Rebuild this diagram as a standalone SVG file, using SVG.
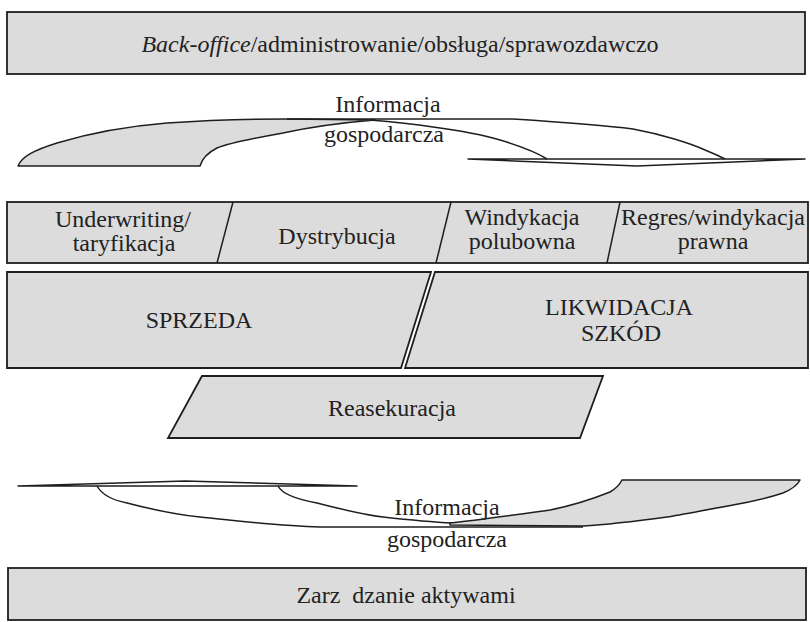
<svg xmlns="http://www.w3.org/2000/svg" width="810" height="622" viewBox="0 0 810 622">
<style>
.box{fill:#dcdcdc;stroke:#1e1e1e;stroke-width:1.8}
.ln{fill:none;stroke:#1e1e1e;stroke-width:1.5;stroke-linejoin:round}
.gr{fill:#dcdcdc;stroke:#1e1e1e;stroke-width:1.5;stroke-linejoin:round}
</style>
<rect width="810" height="622" fill="#ffffff"/>
<g font-family="Liberation Serif, Times New Roman, serif" font-size="24" fill="#222" text-anchor="middle">
<g id="back-office">
<rect class="box" x="7" y="12" width="798" height="62"/>
<text x="400" y="52"><tspan font-style="italic">Back-office</tspan>/administrowanie/obsługa/sprawozdawczo</text>
</g>
<g id="info-top">
<path class="gr" d="M18,166 C22,156 35,150 57,143 C90,133 130,126 167,123 C210,120 250,119 287,119 L375,120 C350,122 320,125 283,133 C255,138 232,142 217,148 C207,153 202,159 200,166 Z"/>
<path class="ln" d="M287,119 L513,119 C560,122 610,126 633,129 C660,134 690,143 705,150 C715,154 721,157 725,159"/>
<path class="ln" d="M370,120 C395,122 420,125 433,127 C455,130 480,134 500,140 C520,146 536,152 547,159"/>
<polygon class="ln" points="468,159 805,159 637,166"/>
<text x="388" y="112">Informacja</text>
<text x="384" y="142">gospodarcza</text>
</g>
<g id="row-top">
<rect class="box" x="7" y="202" width="801" height="61"/>
<line class="ln" x1="233" y1="202" x2="217" y2="263"/>
<line class="ln" x1="451" y1="202" x2="436" y2="263"/>
<line class="ln" x1="620" y1="202" x2="607" y2="263"/>
</g>
<g id="underwriting">
<text x="123" y="227">Underwriting/</text>
<text x="124" y="251">taryfikacja</text>
</g>
<g id="dystrybucja">
<text x="337" y="244">Dystrybucja</text>
</g>
<g id="windykacja">
<text x="522" y="225">Windykacja</text>
<text x="522" y="249">polubowna</text>
</g>
<g id="regres">
<text x="713" y="225">Regres/windykacja</text>
<text x="713" y="249">prawna</text>
</g>
<g id="sprzeda">
<polygon class="box" points="7,272 431,272 401,368 7,368"/>
<text x="199" y="328">SPRZEDA</text>
</g>
<g id="likwidacja">
<polygon class="box" points="435,272 808,272 808,368 405,368"/>
<text x="619" y="315">LIKWIDACJA</text>
<text x="621" y="341">SZKÓD</text>
</g>
<g id="reasekuracja">
<polygon class="box" points="202,376 603,376 580,438 168,438"/>
<text x="392" y="416">Reasekuracja</text>
</g>
<g id="info-bottom">
<polygon class="ln" points="18,486 185,481 357,486"/>
<path class="ln" d="M97,486 C102,495 112,500 127,503 C150,509 180,515 200,517 C240,521 280,526 320,527 L583,527"/>
<path class="ln" d="M278,486 C282,494 295,499 317,503 C340,509 365,515 383,517 C410,520 430,522 452,523"/>
<path class="gr" d="M450,523 C480,520 520,514 550,510 C575,505 595,498 610,492 C617,488 620,484 622,480 L800,480 C798,484 795,488 783,493 C765,499 750,502 733,505 C700,511 680,515 667,517 C630,522 600,525 583,526 L450,525 Z"/>
<text x="447" y="515">Informacja</text>
<text x="447" y="547">gospodarcza</text>
</g>
<g id="aktywa">
<rect class="box" x="8" y="568" width="798" height="52"/>
<text x="406" y="603" xml:space="preserve">Zarz  dzanie aktywami</text>
</g>
</g>
</svg>
